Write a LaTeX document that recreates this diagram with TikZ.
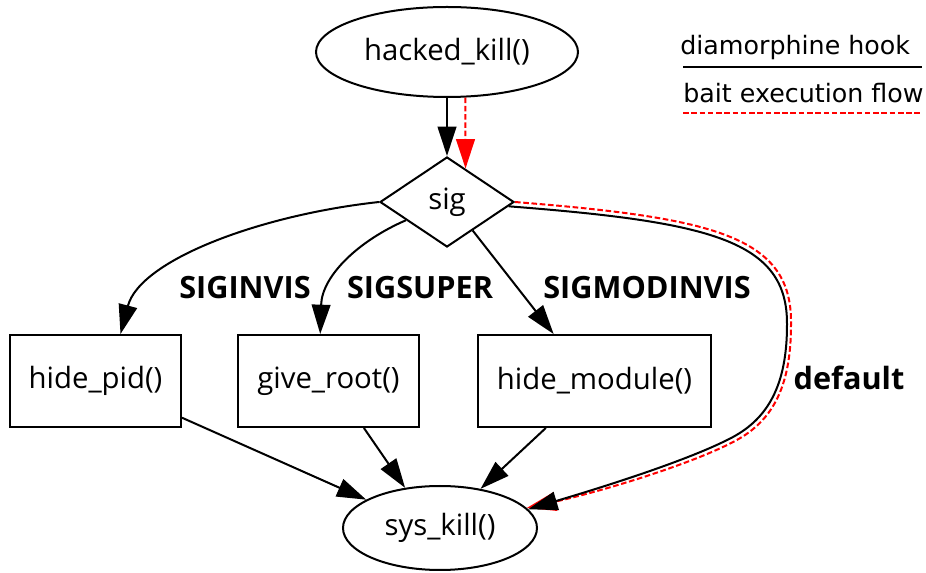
\documentclass[tikz,border=0pt]{standalone}
\usepackage{fontspec}
\setmainfont{Open Sans}
\newfontfamily\legendfont{DejaVu Sans}
\usetikzlibrary{shapes.geometric,arrows.meta}

\begin{document}
\begin{tikzpicture}[x=0.75pt,y=0.75pt,yscale=-1,xscale=1,
  every node/.style={font=\fontsize{22}{26}\selectfont},
  fnbox/.style={draw,line width=1.5pt,rectangle,minimum height=69pt,inner sep=0pt},
  fnoval/.style={draw,line width=1.5pt,ellipse,inner sep=0pt},
  hook/.style={line width=1.5pt,-{Triangle[length=22pt,width=14pt]}},
  bait/.style={hook,red,dash pattern=on 4.2pt off 2pt},
  edgelbl/.style={font=\bfseries\fontsize{23}{27}\selectfont},
  keylbl/.style={font=\legendfont\fontsize{19}{23}\selectfont,anchor=base west,inner sep=0pt}]
\useasboundingbox (0,0) rectangle (926,573);

%Shape: Ellipse [hacked_kill]
\node[fnoval,minimum width=196.5pt,minimum height=67.5pt] (hacked_kill) at (447,52) {hacked\_kill()};
%Shape: Diamond [sig]
\node[draw,diamond,line width=1.5pt,minimum width=100.5pt,minimum height=67.5pt,inner sep=0pt] (sig) at (447,202) {sig};
%Shape: Rectangles
\node[fnbox,minimum width=128.25pt] (hide_pid) at (95.5,381) {hide\_pid()};
\node[fnbox,minimum width=135.75pt] (give_root) at (328.5,381) {give\_root()};
\node[fnbox,minimum width=174.75pt] (hide_module) at (594.5,381) {hide\_module()};
%Shape: Ellipse [sys_kill]
\node[fnoval,minimum width=145.5pt,minimum height=63pt] (sys_kill) at (440,528) {sys\_kill()};

%Edge labels
\node[edgelbl] (lbl_invis) at (245,288) {SIGINVIS};
\node[edgelbl] (lbl_super) at (420,288) {SIGSUPER};
\node[edgelbl] (lbl_modinvis) at (647,288) {SIGMODINVIS};
\node[edgelbl] (lbl_default) at (849,378) {default};

%Legend
\node[keylbl] (key_hook) at (680,55) {diamorphine hook};
\node[keylbl] (key_bait) at (683,103) {bait execution flow};
\coordinate (hook_a) at (683,67);
\coordinate (hook_b) at (922,67);
\coordinate (bait_a) at (683,113);
\coordinate (bait_b) at (922,113);
\draw[line width=1.5pt] (hook_a) -- (hook_b);
\draw[line width=1.5pt,red,dash pattern=on 4.2pt off 2pt] (bait_a) -- (bait_b);

%Straight Lines [hacked_kill -> sig]
\draw[hook] (hacked_kill) -- (sig);
\draw[bait] (hacked_kill.-68) -- (sig.61);
%Curves [sig -> handlers]
\draw[hook] (sig.west) .. controls (260,215) and (140,260) .. (hide_pid.62);
\draw[hook] (sig.204) .. controls (360,240) and (322,275) .. (give_root.100);
\draw[hook] (sig.312) -- (hide_module.131);
%Curve [default]
\draw[bait] (sig.east) .. controls (714,218) and (793,236) .. (791,325) .. controls (791,389) and (771,422) .. (735,441) .. controls (692,464) and (603,491) .. (sys_kill.13);
\draw[hook] (sig.356) .. controls (710,222) and (788,240) .. (787,325) .. controls (787,385) and (768,418) .. (733,437) .. controls (690,460) and (600,488) .. (sys_kill.12);
%Straight Lines [handlers -> sys_kill]
\draw[hook] (hide_pid.-23) -- (sys_kill.159);
\draw[hook] (give_root.-53) -- (sys_kill.131);
\draw[hook] (hide_module.-136.5) -- (sys_kill.44);

\end{tikzpicture}
\end{document}
